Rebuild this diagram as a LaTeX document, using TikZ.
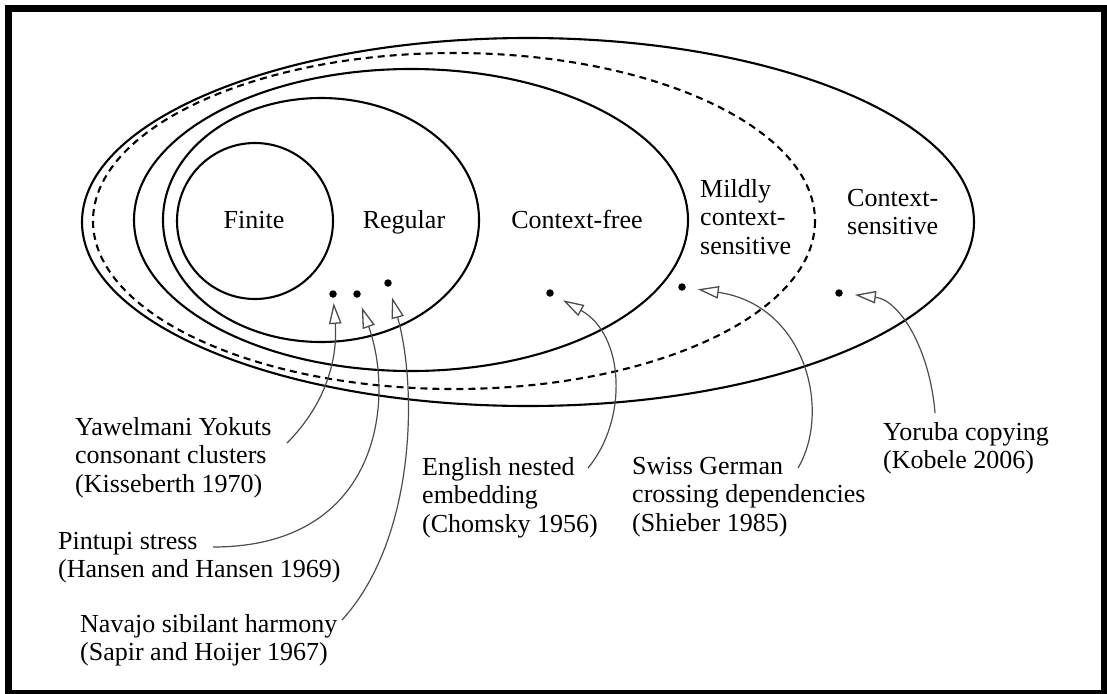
\documentclass[tikz,border=0pt]{standalone}
\usepackage{fontspec}
\setmainfont{Liberation Serif}
\usetikzlibrary{arrows.meta}
\begin{document}
\begin{tikzpicture}[x=1pt,y=-1pt,
  every node/.style={font=\fontsize{26}{28.5}\selectfont, inner sep=0pt},
  langset/.style={draw=black, line width=2.1pt},
  mildset/.style={draw=black, line width=2.1pt, dash pattern=on 7pt off 5pt},
  dotnode/.style={circle, fill=black, minimum size=7.5pt},
  ptr/.style={draw=black!70, line width=1.2pt, -{Triangle[open, length=21pt, width=12.5pt, line width=1.3pt]}},
  lbl/.style={align=left, anchor=north west}]
\useasboundingbox (0,0) rectangle (1107,693);
\draw[line width=6.5pt] (8.5,8.5) rectangle (1104,693);
% language classes
\draw[langset] (528,222) ellipse [x radius=446, y radius=184];
\draw[mildset] (454,221) ellipse [x radius=361, y radius=168];
\draw[langset] (411,220) ellipse [x radius=277, y radius=151];
\draw[langset] (321,220) ellipse [x radius=158, y radius=122];
\draw[langset] (255,221) circle [radius=78];
% class labels
\node[anchor=base] (fin) at (254,228) {Finite};
\node[anchor=base] (reg) at (404,228) {Regular};
\node[anchor=base] (cf) at (577,228) {Context-free};
\node[lbl] (mcs) at (700,179) {Mildly\\context-\\sensitive};
\node[lbl] (cs) at (847,189) {Context-\\sensitive};
% dots
\node[dotnode] (d1) at (333,294) {};
\node[dotnode] (d2) at (357,294) {};
\node[dotnode] (d3) at (388,283) {};
\node[dotnode] (d4) at (550,293) {};
\node[dotnode] (d5) at (682,287) {};
\node[dotnode] (d6) at (839,293) {};
% example labels
\node[lbl] (yaw) at (75,417) {Yawelmani Yokuts\\consonant clusters\\(Kisseberth 1970)};
\node[lbl] (pin) at (58,532) {Pintupi stress\\(Hansen and Hansen 1969)};
\node[lbl] (nav) at (80,614) {Navajo sibilant harmony\\(Sapir and Hoijer 1967)};
\node[lbl] (eng) at (422,457) {English nested\\embedding\\(Chomsky 1956)};
\node[lbl] (swi) at (632,457) {Swiss German\\crossing dependencies\\(Shieber 1985)};
\node[lbl] (yor) at (883,422) {Yoruba copying\\(Kobele 2006)};
% connector start points
\coordinate (s1) at (287,443);
\coordinate (s2) at (213,547);
\coordinate (s3) at (342,620);
\coordinate (s4) at (588,468);
\coordinate (s5) at (798,468);
\coordinate (s6) at (935,413);
% connectors
\draw[ptr, shorten >=5pt] (s1) .. controls (325,405) and (338,360) .. (d1);
\draw[ptr, shorten >=10pt] (s2) .. controls (380,547) and (395,400) .. (d2);
\draw[ptr, shorten >=11pt] (s3) .. controls (415,540) and (418,390) .. (d3);
\draw[ptr, shorten >=11pt] (s4) .. controls (628,420) and (625,335) .. (d4);
\draw[ptr, shorten >=12pt] (s5) .. controls (832,410) and (805,305) .. (d5);
\draw[ptr, shorten >=12pt] (s6) .. controls (930,350) and (900,300) .. (d6);
\end{tikzpicture}
\end{document}
